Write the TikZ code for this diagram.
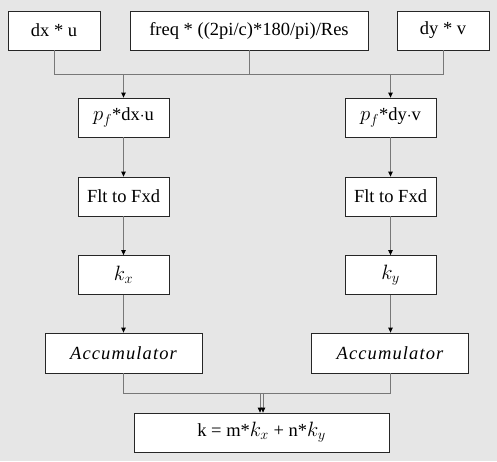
\documentclass[tikz,border=0pt]{standalone}
\usepackage{fontspec}
\setmainfont{Liberation Serif}
\usetikzlibrary{arrows.meta}
\definecolor{bg}{RGB}{230,230,230}
\definecolor{ln}{RGB}{120,120,120}
\newcommand{\mymath}[1]{{\fontsize{21.5}{22}\selectfont$#1$}}
\begin{document}
\begin{tikzpicture}[x=1pt,y=-1pt,
  box/.style={draw=black!85,fill=white,line width=0.8pt,minimum height=39pt,inner sep=0pt,font=\fontsize{18.5}{22}\selectfont},
  acc/.style={font=\fontsize{18.5}{22}\selectfont\itshape\addfontfeatures{LetterSpace=6}},
  conn/.style={draw=ln,line width=0.8pt},
  arr/.style={conn,-{Triangle[length=5pt,width=4.5pt,color=black]}}]
\fill[bg] (0,0) rectangle (497,461);
\useasboundingbox (0,0) rectangle (497,461);
\node[box,minimum width=92pt] (dxu) at (54,30.5) {dx * u};
\node[box,minimum width=238pt] (freq) at (249,30.5) {freq * ((2pi/c)*180/pi)/Res};
\node[box,minimum width=92pt] (dyv) at (443,30.5) {dy * v};
\node[box,minimum width=91pt] (pfl) at (123.5,117.5) {\mymath{p_f}*dx$\cdot$u};
\node[box,minimum width=91pt] (pfr) at (390.5,117.5) {\mymath{p_f}*dy$\cdot$v};
\node[box,minimum width=91pt] (fl) at (123.5,196.5) {Flt to Fxd};
\node[box,minimum width=91pt] (fr) at (390.5,196.5) {Flt to Fxd};
\node[box,minimum width=91pt] (kx) at (123.5,275) {\mymath{k_x}};
\node[box,minimum width=91pt] (ky) at (390.5,275) {\mymath{k_y}};
\node[box,acc,minimum width=157pt,minimum height=40pt] (accl) at (123.5,353) {Accumulator};
\node[box,acc,minimum width=157pt,minimum height=40pt] (accr) at (390,353) {Accumulator};
\node[box,minimum width=255pt] (k) at (261.5,432.5) {k = m*\mymath{k_x} + n*\mymath{k_y}};
\coordinate (h1) at (0,74);
\coordinate (h2) at (0,393);
\draw[conn] (dxu.south) |- (dyv.south |- h1) -- (dyv.south);
\draw[conn] (freq.south) -- (freq.south |- h1);
\draw[arr] (pfl.north |- h1) -- (pfl.north);
\draw[arr] (pfr.north |- h1) -- (pfr.north);
\draw[arr] (pfl) -- (fl);
\draw[arr] (pfr) -- (fr);
\draw[arr] (fl) -- (kx);
\draw[arr] (fr) -- (ky);
\draw[arr] (kx) -- (kx.south |- accl.north);
\draw[arr] (ky) -- (ky.south |- accr.north);
\draw[arr] (kx.south |- accl.south) |- ([xshift=1.5pt]k.north |- h2) -- ([xshift=1.5pt]k.north);
\draw[arr] (ky.south |- accr.south) |- ([xshift=-1.5pt]k.north |- h2) -- ([xshift=-1.5pt]k.north);
\end{tikzpicture}
\end{document}
